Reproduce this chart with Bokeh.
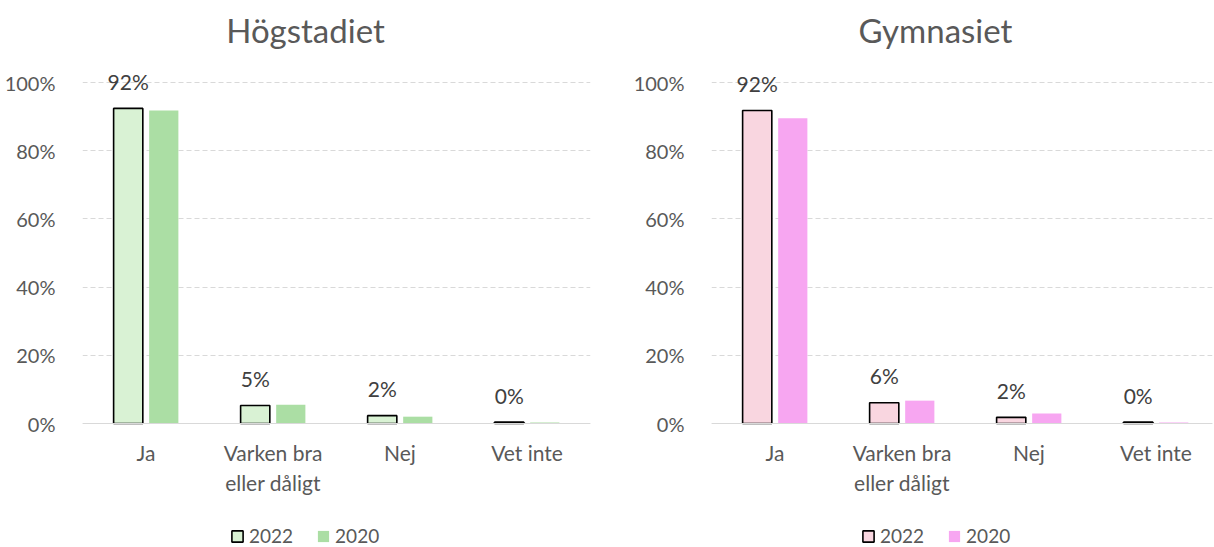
from bokeh.plotting import figure
from bokeh.layouts import row
from bokeh.models import (ColumnDataSource, Range1d, FixedTicker, LabelSet, Legend,
                          LegendItem, NumeralTickFormatter, Label)
from bokeh.core.properties import value
from bokeh.transform import dodge
from bokeh.embed import file_html
from bokeh.resources import INLINE

categories = ["Ja", "Varken bra\neller dåligt", "Nej", "Vet inte"]
titles = ["Högstadiet", "Gymnasiet"]
hog_2022 = [0.924, 0.053, 0.023, 0.004]
hog_2020 = [0.918, 0.055, 0.020, 0.003]
gym_2022 = [0.918, 0.061, 0.018, 0.004]
gym_2020 = [0.895, 0.067, 0.029, 0.003]
series_names = ["2022", "2020"]
y_ticks = [0, 0.2, 0.4, 0.6, 0.8, 1.0]

FONT = "Lato"
TICK_COLOR = "#595959"

# layout (pixels): frame spans full height; 0% at y=424, 100% at y=82
H = 547
Y0, Y100 = 423, 82
PX = Y0 - Y100
Y_MIN = -(H - Y0) / PX
Y_MAX = Y0 / PX
TITLE_Y = (Y0 - 29) / PX


def make_panel(title, v22, v20, fill22, fill20, border_left, x_end, border_right,
               title_x, legend_x):
    idx = list(range(len(categories)))
    src = ColumnDataSource(dict(
        x=idx, v22=v22, v20=v20,
        lab=[f"{v * 100:.0f}%" for v in v22],
    ))
    p = figure(width=607, height=H, output_backend="svg", toolbar_location=None,
               x_range=Range1d(-0.5, x_end), y_range=Range1d(Y_MIN, Y_MAX),
               min_border_left=border_left, min_border_right=border_right,
               min_border_top=0, min_border_bottom=0)
    p.outline_line_color = None

    p.add_layout(Label(x=title_x, y=TITLE_Y, text=title, text_align="center",
                       text_baseline="middle", text_font=FONT,
                       text_font_size="33px", text_color=TICK_COLOR))

    r22 = p.vbar(x=dodge("x", -0.14, range=p.x_range), top="v22", width=0.23,
                 source=src, fill_color=fill22, line_color="#000000", line_width=1.6)
    r20 = p.vbar(x=dodge("x", 0.14, range=p.x_range), top="v20", width=0.23,
                 source=src, fill_color=fill20, line_color=None)

    labels = LabelSet(x=dodge("x", -0.14, range=p.x_range), y="v22", text="lab",
                      source=src, y_offset=27, text_align="center",
                      text_baseline="middle", text_font=value(FONT),
                      text_font_size="21px", text_color="#404040")
    p.add_layout(labels)

    p.xaxis.fixed_location = 0
    p.xaxis.ticker = FixedTicker(ticks=idx)
    p.xaxis.major_label_overrides = {i: c for i, c in zip(idx, categories)}
    p.xaxis.major_tick_line_color = None
    p.xaxis.minor_tick_line_color = None
    p.xaxis.axis_line_color = "#D9D9D9"
    p.xaxis.major_label_standoff = 10
    p.xaxis.major_label_text_font = FONT
    p.xaxis.major_label_text_font_size = "21px"
    p.xaxis.major_label_text_color = TICK_COLOR

    p.yaxis.ticker = FixedTicker(ticks=y_ticks)
    p.yaxis.formatter = NumeralTickFormatter(format="0%")
    p.yaxis.axis_line_color = None
    p.yaxis.major_tick_line_color = None
    p.yaxis.minor_tick_line_color = None
    p.yaxis.major_label_standoff = 21
    p.yaxis.major_label_text_font = FONT
    p.yaxis.major_label_text_font_size = "20px"
    p.yaxis.major_label_text_color = TICK_COLOR

    p.xgrid.grid_line_color = None
    p.ygrid.grid_line_color = "#D9D9D9"
    p.ygrid.grid_line_dash = "5 3"

    legend = Legend(items=[LegendItem(label=series_names[0], renderers=[r22]),
                           LegendItem(label=series_names[1], renderers=[r20])],
                    orientation="horizontal", location=(legend_x, 0),
                    border_line_color=None, background_fill_alpha=0,
                    label_text_font=FONT, label_text_font_size="19px",
                    label_text_color=TICK_COLOR, glyph_width=14, glyph_height=14,
                    spacing=23, label_standoff=5, margin=0, padding=0)
    p.add_layout(legend, "center")
    return p


p1 = make_panel(titles[0], hog_2022, hog_2020, "#D9F2D4", "#ABDEA4",
                82, 3.5, 17, 1.256, 148)
p2 = make_panel(titles[1], gym_2022, gym_2020, "#F9D6E0", "#F7A6F1",
                104, 3.445, 2, 1.264, 150)

p = row(p1, p2)
open("out.html", "w").write(file_html(p, INLINE))
